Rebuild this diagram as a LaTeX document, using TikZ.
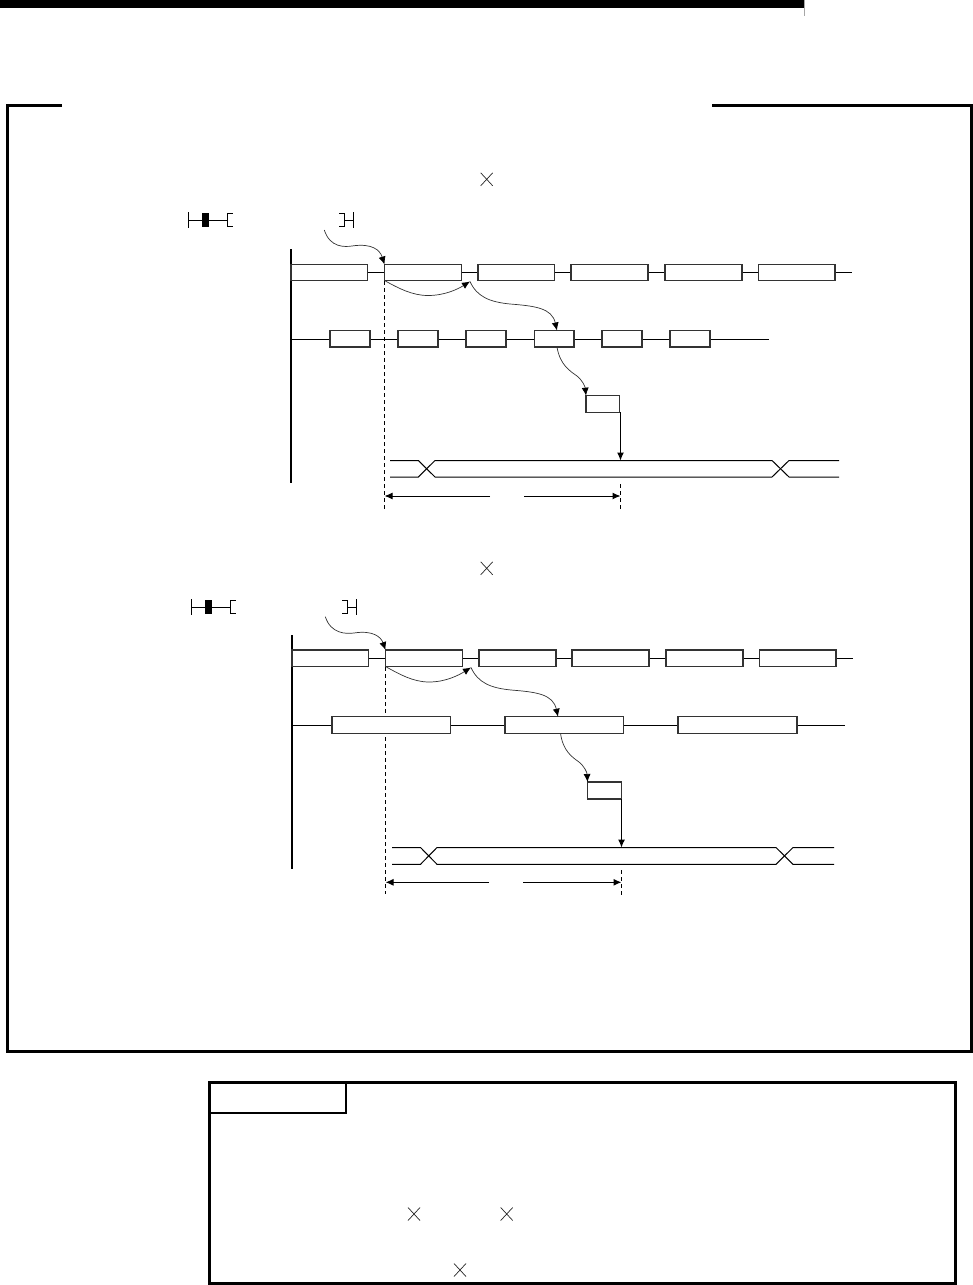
\documentclass[tikz,border=0pt]{standalone}
\usetikzlibrary{arrows.meta}
\tikzset{
  x=1pt,y=-1pt,
  tbox/.style={draw=black!80,fill=white,line width=1.4pt,inner sep=0pt,outer sep=0pt,rectangle},
  wire/.style={draw=black,line width=1pt},
  rail/.style={draw=black,line width=2.4pt},
  frameline/.style={draw=black,line width=3pt},
  dashline/.style={draw=black,line width=1pt,dash pattern=on 4pt off 3pt},
  curvearrow/.style={draw=black!80,line width=.7pt,-{Latex[length=8pt,width=7pt,black]}},
  straightarrow/.style={draw=black,line width=1pt,-{Latex[length=8pt,width=7pt]}},
  dimarrow/.style={draw=black,line width=1pt,-{Latex[length=8pt,width=7pt]}},
  crossmark/.style={draw=black!85,line width=.7pt},
}
% \bx{name}{x1}{y1}{x2}{y2}
\newcommand{\bx}[5]{%
  \pgfmathsetmacro{\bxw}{#4-#2}\pgfmathsetmacro{\bxh}{#5-#3}%
  \pgfmathsetmacro{\bxx}{(#4+#2)/2}\pgfmathsetmacro{\bxy}{(#5+#3)/2}%
  \node[tbox,minimum width=\bxw pt,minimum height=\bxh pt] (#1) at (\bxx,\bxy) {};}
% \crossat{name}{x}{y}
\newcommand{\crossat}[3]{%
  \coordinate (#1) at (#2,#3);
  \draw[crossmark] ([xshift=-6pt,yshift=6.5pt]#1) -- ([xshift=6pt,yshift=-6.5pt]#1)
                   ([xshift=-6pt,yshift=-6.5pt]#1) -- ([xshift=6pt,yshift=6.5pt]#1);}
% \ladder{xleft}{yc}{blackx1}{brk1}{brk2}{xright}
\newcommand{\ladder}[6]{%
  \draw[wire] (#1,#2-8) -- (#1,#2+8);
  \draw[wire] (#1,#2) -- (#4,#2);
  \fill[black] (#3,#2-7.3) rectangle (#3+6.8,#2+7.3);
  \draw[wire] (#4+5,#2-6.7) -- (#4,#2-6.7) -- (#4,#2+6.7) -- (#4+5,#2+6.7);
  \draw[wire] (#5-5,#2-6.7) -- (#5,#2-6.7) -- (#5,#2+6.7) -- (#5-5,#2+6.7);
  \draw[wire] (#5,#2) -- (#6,#2);
  \draw[wire] (#6,#2-8) -- (#6,#2+8);}
\begin{document}
\begin{tikzpicture}
\useasboundingbox (0,0) rectangle (973,1285);
% header
\fill[black] (0,0) rectangle (804,8);
\draw[black!35,line width=1pt] (804.5,0) -- (804.5,16);
% outer frame
\draw[frameline] (62,105.5) -- (7.5,105.5) -- (7.5,1051) -- (971.5,1051) -- (971.5,105.5) -- (712,105.5);
% note box
\draw[frameline] (209.5,1082.5) rectangle (955.5,1283);
\draw[draw=black,line width=2pt] (346,1082.5) -- (346,1112.7) -- (209.5,1112.7);
\crossat{n1}{414}{1214}
\crossat{n2}{506.7}{1214}
\crossat{n3}{460}{1270}

%%%%% upper diagram
\crossat{u1}{486.7}{179.3}
\ladder{188.3}{220}{202.4}{227.5}{344}{353.7}
\coordinate (urailt) at (291,249); \coordinate (urailb) at (291,483);
\draw[rail] (urailt) -- (urailb);
\coordinate (ur1s) at (291,272); \coordinate (ur1e) at (852,272);
\coordinate (ur2s) at (291,339); \coordinate (ur2e) at (769,339);
\draw[wire] (ur1s) -- (ur1e);
\draw[wire] (ur2s) -- (ur2e);
\coordinate (ud1t) at (384.5,281); \coordinate (ud1b) at (384.5,510);
\draw[dashline] (ud1t) -- (ud1b);
\bx{ua1}{291}{264.5}{367.5}{280.5}
\bx{ua2}{384.5}{264.5}{461.5}{280.5}
\bx{ua3}{478}{264.5}{554.5}{280.5}
\bx{ua4}{571}{264.5}{648}{280.5}
\bx{ua5}{665}{264.5}{742}{280.5}
\bx{ua6}{758.5}{264.5}{835}{280.5}
\bx{ub1}{330}{330.5}{370}{347}
\bx{ub2}{398}{330.5}{438}{347}
\bx{ub3}{466}{330.5}{506}{347}
\bx{ub4}{534.5}{330.5}{574}{347}
\bx{ub5}{602}{330.5}{642}{347}
\bx{ub6}{670}{330.5}{710}{347}
\bx{uc}{586}{395.7}{619.7}{412.3}
% curves
\coordinate (ucs) at (324.3,230);
\draw[curvearrow] (ucs) .. controls (330,248) and (345,247) .. (352,246)
   .. controls (372,243) and (380,250) .. (ua2.north west);
\coordinate (ucm) at (470,281.5);
\draw[curvearrow] (ua2.south west) .. controls (398,288) and (412,295.5) .. (428,295.5)
   .. controls (445,295.5) and (458,289) .. (ucm);
\draw[curvearrow] (ucm) .. controls (477,297) and (490,302) .. (510,304)
   .. controls (535,306) and (552,308) .. ([xshift=2.7pt]ub4.north);
\coordinate (ub4b) at (557,347);
\draw[curvearrow] (ub4b) .. controls (560,365) and (570,371) .. (577,376)
   .. controls (582,380) and (585,386) .. (uc.north west);
% waveform
\coordinate (uw1) at (390,460.5); \coordinate (uw2) at (418.3,460.5); \coordinate (uw3) at (435,477);
\coordinate (uw4) at (772,477); \coordinate (uw5) at (789,460.5); \coordinate (uw6) at (839,460.5);
\coordinate (uw7) at (390,477); \coordinate (uw8) at (418.3,477); \coordinate (uw9) at (435,460.5);
\coordinate (uw10) at (772,460.5); \coordinate (uw11) at (789,477); \coordinate (uw12) at (839,477);
\draw[wire] (uw1) -- (uw2) -- (uw3) -- (uw4) -- (uw5) -- (uw6);
\draw[wire] (uw7) -- (uw8) -- (uw9) -- (uw10) -- (uw11) -- (uw12);
\coordinate (uct) at (620.5,412.3); \coordinate (uwt) at (620.5,460.5);
\draw[straightarrow] (uct) -- (uwt);
\coordinate (ud2t) at (620.5,484); \coordinate (ud2b) at (620.5,510);
\draw[dashline] (ud2t) -- (ud2b);
\coordinate (uda) at (490,496); \coordinate (udb) at (384.5,496);
\coordinate (udc) at (524,496); \coordinate (udd) at (620.5,496);
\draw[dimarrow] (uda) -- (udb);
\draw[dimarrow] (udc) -- (udd);

%%%%% lower diagram
\crossat{l1}{486.7}{568.3}
\ladder{191.7}{607}{205.4}{230.5}{347}{356.5}
\coordinate (lrailt) at (292,635); \coordinate (lrailb) at (292,869);
\draw[rail] (lrailt) -- (lrailb);
\coordinate (lr1s) at (292,658); \coordinate (lr1e) at (853,658);
\coordinate (lr2s) at (292,725); \coordinate (lr2e) at (845,725);
\draw[wire] (lr1s) -- (lr1e);
\draw[wire] (lr2s) -- (lr2e);
\coordinate (ld1t) at (385.5,667); \coordinate (ld1b) at (385.5,894);
\draw[dashline] (ld1t) -- (ld1b);
\bx{la1}{292}{650}{368.5}{666.5}
\bx{la2}{385.5}{650}{462.5}{666.5}
\bx{la3}{479}{650}{556}{666.5}
\bx{la4}{572}{650}{649}{666.5}
\bx{la5}{666}{650}{743}{666.5}
\bx{la6}{759.5}{650}{836}{666.5}
\bx{lb1}{332}{716.5}{450.7}{733.3}
\bx{lb2}{505}{716.5}{623.7}{733.3}
\bx{lb3}{678}{716.5}{797}{733.3}
\bx{lc}{587.5}{782}{621.5}{799}
\coordinate (lcs) at (325.3,616.7);
\draw[curvearrow] (lcs) .. controls (331,634) and (346,634) .. (354,633)
   .. controls (373,630) and (381,637) .. (la2.north west);
\coordinate (lcm) at (471,667.5);
\draw[curvearrow] (la2.south west) .. controls (399,674) and (413,682) .. (429,682)
   .. controls (446,682) and (459,675) .. (lcm);
\draw[curvearrow] (lcm) .. controls (478,683) and (491,688) .. (511,690)
   .. controls (536,692) and (553,694) .. ([xshift=53pt,yshift=-.2pt]lb2.north west);
\coordinate (lb2b) at (560.5,733.3);
\draw[curvearrow] (lb2b) .. controls (563,751) and (572,757) .. (579,762)
   .. controls (584,766) and (587,772) .. (lc.north west);
\coordinate (lw1) at (392,847.5); \coordinate (lw2) at (420.5,847.5); \coordinate (lw3) at (437,864.3);
\coordinate (lw4) at (776,864.3); \coordinate (lw5) at (793,847.5); \coordinate (lw6) at (834,847.5);
\coordinate (lw7) at (392,864.3); \coordinate (lw8) at (420.5,864.3); \coordinate (lw9) at (437,847.5);
\coordinate (lw10) at (776,847.5); \coordinate (lw11) at (793,864.3); \coordinate (lw12) at (834,864.3);
\draw[wire] (lw1) -- (lw2) -- (lw3) -- (lw4) -- (lw5) -- (lw6);
\draw[wire] (lw7) -- (lw8) -- (lw9) -- (lw10) -- (lw11) -- (lw12);
\coordinate (lwt) at (621.5,847.5);
\draw[straightarrow] (lc.south east) -- (lwt);
\coordinate (ld2t) at (621.5,870); \coordinate (ld2b) at (621.5,895);
\draw[dashline] (ld2t) -- (ld2b);
\coordinate (lda) at (489,882.3); \coordinate (ldb) at (385.5,882.3);
\coordinate (ldc) at (523,882.3); \coordinate (ldd) at (621.5,882.3);
\draw[dimarrow] (lda) -- (ldb);
\draw[dimarrow] (ldc) -- (ldd);
\end{tikzpicture}
\end{document}
